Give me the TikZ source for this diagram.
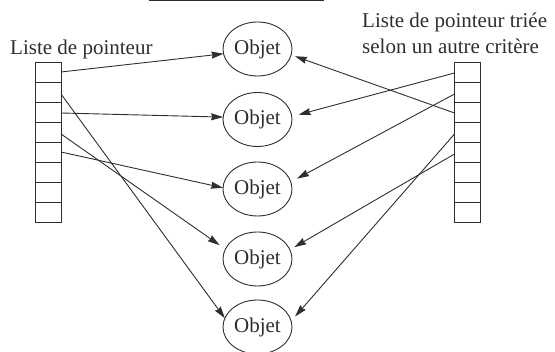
\documentclass[tikz,border=0pt]{standalone}
\usepackage{fontspec}
\setmainfont{Liberation Serif}
\usetikzlibrary{shapes.geometric,arrows.meta}
\begin{document}
\begin{tikzpicture}[x=1pt,y=-1pt,
  ink/.style={black!82},
  cell/.style={draw=black!82,line width=0.9pt,minimum width=26pt,minimum height=20pt,inner sep=0pt,outer sep=0pt},
  obj/.style={ellipse,draw=black!82,line width=0.9pt,minimum width=69pt,minimum height=54pt,inner sep=0pt,outer sep=0pt,text=black!82,font=\fontsize{21}{25}\selectfont},
  ptr/.style={draw=black!82,line width=0.9pt,-{Stealth[length=12pt,width=7pt,inset=1pt]}},
  lbl/.style={text=black!82,inner sep=0pt,font=\fontsize{21}{26}\selectfont}]
\useasboundingbox (0,0) rectangle (555,352);
% cut-off line at top
\draw[black!82,line width=1.3pt] (149,0.8) -- (324,0.8);
% labels
\node[lbl,anchor=base west] (tl) at (10,55) {Liste de pointeur};
\node[lbl,anchor=north west,align=left] (tr) at (362,12.5) {Liste de pointeur triée\\selon un autre critère};
% left array
\foreach \i in {1,...,8} {
  \node[cell] (L\i) at (48,{52+20*\i}) {};
  \node[cell] (R\i) at (467.5,{52+20*\i}) {};
}
% objects
\node[obj] (e1) at (257.5,49) {Objet};
\node[obj] (e2) at (257.5,119.5) {Objet};
\node[obj] (e3) at (257.5,189) {Objet};
\node[obj] (e4) at (257.5,259) {Objet};
\node[obj] (e5) at (257.5,327) {Objet};
% left pointers
\draw[ptr] (L1.east) -- (e1.188);
\draw[ptr] ([yshift=-2pt]L2.east) -- (e5.165);
\draw[ptr] ([yshift=-1pt]L3.east) -- (e2.176);
\draw[ptr,shorten >=7pt] ([yshift=-2pt]L4.east) -- (e4.163);
\draw[ptr] (L5.east) -- (e3.178);
% right pointers
\draw[ptr,shorten >=7pt] ([yshift=-1pt]R1.west) -- (e2.5);
\draw[ptr,shorten >=7pt] ([yshift=-2pt]R2.west) -- (e3.12);
\draw[ptr,shorten >=4pt] ([yshift=-1pt]R3.west) -- (e1.-10);
\draw[ptr,shorten >=6pt] ([yshift=-2pt]R4.west) -- (e5.10);
\draw[ptr,shorten >=5pt] ([yshift=-2pt]R5.west) -- (e4.16);
\end{tikzpicture}
\end{document}
